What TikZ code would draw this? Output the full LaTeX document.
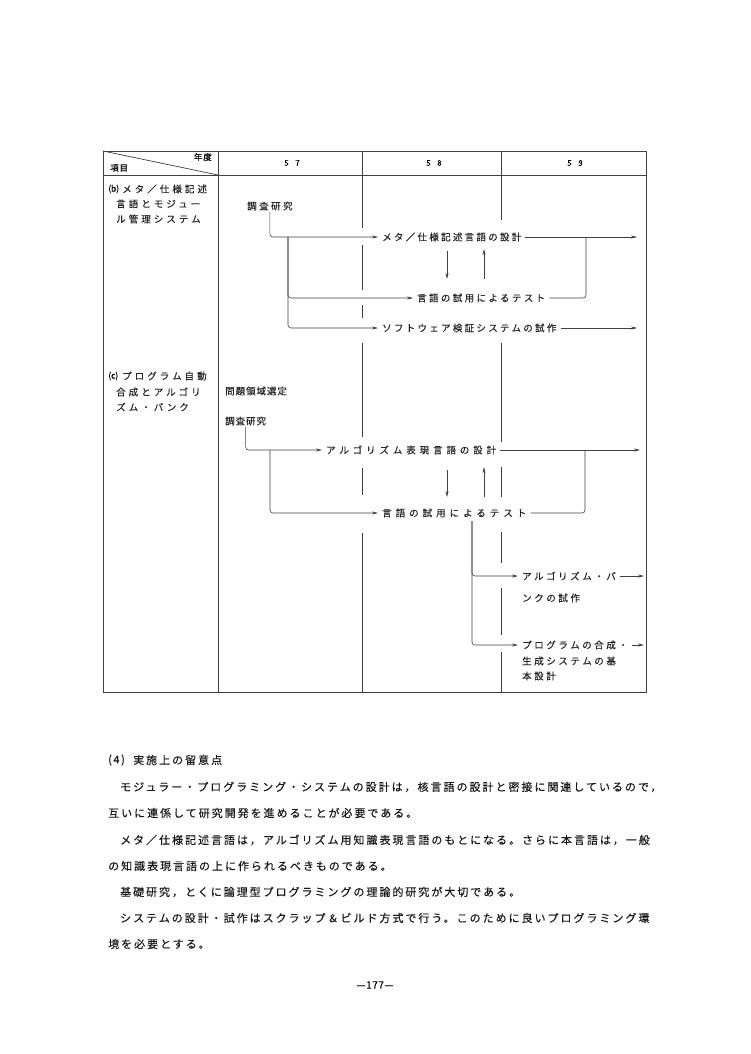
\documentclass[tikz,border=0pt]{standalone}
\usepackage{fontspec}
\setmainfont{Noto Sans CJK JP}
\usetikzlibrary{arrows.meta}
\tikzset{
  jp/.style 2 args={font=\fontsize{#1pt}{#1pt}\selectfont\addfontfeature{LetterSpace=#2,FakeBold=0.25}},
  lbl/.style={anchor=west, inner xsep=4pt, inner ysep=1pt, text=black!85},
  body/.style={anchor=west, inner sep=0pt, text=black!90, jp={11}{18}},
  conn/.style={draw=black!75, line width=0.6pt, rounded corners=3pt},
  arr/.style={conn, -{Stealth[length=6pt,width=3pt]}},
  gridline/.style={draw=black!75, line width=0.7pt},
}
\begin{document}
\begin{tikzpicture}[x=1pt,y=-1pt]
\path[use as bounding box, fill=white] (0,0) rectangle (750,1054);

% table frame
\draw[gridline] (103,151) rectangle (646,692);
\draw[gridline] (103,175) -- (646,175);
\draw[gridline] (218,151) -- (218,692);
\draw[gridline] (103,151) -- (218,175);
\draw[gridline] (362,151) -- (362,175);
\draw[gridline] (501,151) -- (501,175);
% broken column lines
\foreach \a/\b in {175/228,245/290,305/318,343/437,468/495,533/692}
  \draw[gridline] (362,\a) -- (362,\b);
\foreach \a/\b in {175/220,343/442,467/497,532/563,588/635,652/692}
  \draw[gridline] (501,\a) -- (501,\b);

% header
\node[jp={8.5}{10}, anchor=east, inner sep=0pt] (nendo) at (212,157) {年度};
\node[jp={8.5}{10}, anchor=west, inner sep=0pt] (komoku) at (110,168) {項目};
\node[jp={8}{80}, inner sep=0pt] (y57) at (292,163) {57};
\node[jp={8}{80}, inner sep=0pt] (y58) at (434,163) {58};
\node[jp={8}{80}, inner sep=0pt] (y59) at (575,163) {59};

% item labels
\node[anchor=west, inner sep=0pt, jp={8.5}{0}] (bmark) at (108,189) {(b)};
\node[lbl, jp={9.5}{32}] (bl1) at (118,189) {メタ／仕様記述};
\node[lbl, jp={9.5}{32}] (bl2) at (112,204) {言語とモジュー};
\node[lbl, jp={9.5}{32}] (bl3) at (112,219) {ル管理システム};
\node[anchor=west, inner sep=0pt, jp={8.5}{0}] (cmark) at (108,376) {(c)};
\node[lbl, jp={9.5}{32}] (cl1) at (118,376) {プログラム自動};
\node[lbl, jp={9.5}{32}] (cl2) at (112,392) {合成とアルゴリ};
\node[lbl, jp={9.5}{32}] (cl3) at (112,407) {ズム・バンク};

% (b) content
\node[lbl, jp={9.5}{26}] (sb) at (243,206) {調査研究};
\node[lbl, jp={9.5}{24}] (tb1) at (378,237) {メタ／仕様記述言語の設計};
\node[lbl, jp={9.5}{25}] (tb2) at (413,298) {言語の試用によるテスト};
\node[lbl, jp={9.5}{24}] (tb3) at (378,328) {ソフトウェア検証システムの試作};
\coordinate (bb) at (288,237);
\coordinate (eb1) at (637,237);
\coordinate (jb) at (586,237);
\coordinate (eb3) at (637,328);
\coordinate (bd1) at (447,251); \coordinate (bd2) at (447,279);
\coordinate (bu1) at (484,279); \coordinate (bu2) at (484,249);

\draw[arr] (sb.south) |- (tb1.west);
\draw[arr] (bb) |- (tb2.west);
\draw[arr] (bb) |- (tb3.west);
\draw[arr] (tb1.east) -- (eb1);
\draw[conn] (tb2.east) -| (jb);
\draw[arr] (tb3.east) -- (eb3);
\draw[arr] (bd1) -- (bd2);
\draw[arr] (bu1) -- (bu2);

% (c) content
\node[lbl, jp={9.5}{10}] (sc1) at (221,391) {問題領域選定};
\node[lbl, jp={9.5}{10}] (sc2) at (221,421) {調査研究};
\node[lbl, jp={9.5}{41}] (tc1) at (322,450) {アルゴリズム表現言語の設計};
\node[lbl, jp={9.5}{42}] (tc2) at (378,513) {言語の試用によるテスト};
\coordinate (cb) at (270,450);
\coordinate (ec1) at (640,450);
\coordinate (jc) at (585,450);
\coordinate (cd1) at (447,470); \coordinate (cd2) at (447,497);
\coordinate (cu1) at (484,497); \coordinate (cu2) at (484,467);
\coordinate (jd) at (472,521);

\draw[arr] (sc2.south) |- (tc1.west);
\draw[arr] (cb) |- (tc2.west);
\draw[arr] (tc1.east) -- (ec1);
\draw[conn] (tc2.east) -| (jc);
\draw[arr] (cd1) -- (cd2);
\draw[arr] (cu1) -- (cu2);

\node[lbl, jp={9.5}{27}] (td1) at (518,576) {アルゴリズム・バ};
\node[lbl, jp={9.5}{27}] (td1b) at (518,598) {ンクの試作};
\node[lbl, jp={9.5}{27}] (td2) at (518,645) {プログラムの合成・};
\node[lbl, jp={9.5}{27}] (td2b) at (518,661) {生成システムの基};
\node[lbl, jp={9.5}{27}] (td2c) at (518,676) {本設計};
\coordinate (ed1) at (644,576);
\coordinate (ed2) at (644,645);

\draw[arr] (jd) |- (td1.west);
\draw[arr] (jd) |- (td2.west);
\draw[arr] (td1.east) -- (ed1);
\draw[arr] (td2.east) -- (ed2);

% body text
\node[body, jp={11}{14}] (h4a) at (108,760) {(4)};
\node[body] (h4b) at (133,760) {実施上の留意点};
\node[body] (p1) at (120,787) {モジュラー・プログラミング・システムの設計は，核言語の設計と密接に関連しているので，};
\node[body] (p2) at (108,813) {互いに連係して研究開発を進めることが必要である。};
\node[body] (p3) at (120,840) {メタ／仕様記述言語は，アルゴリズム用知識表現言語のもとになる。さらに本言語は，一般};
\node[body] (p4) at (108,866) {の知識表現言語の上に作られるべきものである。};
\node[body] (p5) at (120,892) {基礎研究，とくに論理型プログラミングの理論的研究が大切である。};
\node[body] (p6) at (120,918) {システムの設計・試作はスクラップ＆ビルド方式で行う。このために良いプログラミング環};
\node[body] (p7) at (108,944) {境を必要とする。};
\node[inner sep=0pt, jp={10}{5}] (pg) at (375,985) {—177—};
\end{tikzpicture}
\end{document}
